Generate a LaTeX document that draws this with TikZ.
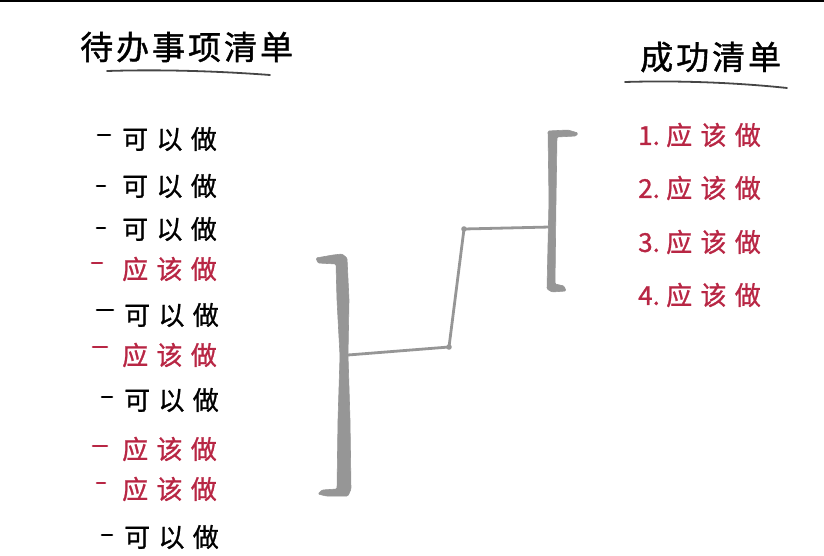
\documentclass[tikz,border=0pt]{standalone}
\usepackage{fontspec}
\newfontfamily\cjk[FakeBold=1]{Noto Sans CJK SC}
\newfontfamily\cjktitle[LetterSpace=9,FakeBold=1.2]{Noto Sans CJK SC}
\newfontfamily\cjklist[LetterSpace=32,FakeBold=1]{Noto Sans CJK SC}
\definecolor{redink}{RGB}{184,38,68}
\definecolor{barink}{RGB}{150,150,150}
\definecolor{lineink}{RGB}{70,70,70}
\begin{document}
\begin{tikzpicture}[x=1pt,y=-1pt,
  titletext/.style={anchor=west,inner sep=0pt,font=\cjktitle\fontsize{33}{33}\selectfont},
  listtext/.style={anchor=west,inner sep=0pt,font=\cjklist\fontsize{26}{26}\selectfont},
  oktext/.style={listtext,text=redink},
  dashmark/.style={line width=2.6pt,line cap=round},
  underline/.style={lineink,line width=1.8pt,line cap=round},
  connector/.style={barink,line width=2.8pt,line cap=round,line join=round},
  barshape/.style={fill=barink,draw=barink,line width=0.6pt,rounded corners=1.2pt}]
\useasboundingbox (0,0) rectangle (824,556);
\fill[black] (0,0) rectangle (824,2.5);
% titles
\node[titletext] (tl) at (80,47) {待办事项清单};
\draw[underline] (107,71) .. controls (170,69) and (230,72) .. (270,75);
\node[titletext] (tr) at (640,57) {成功清单};
\draw[underline] (625,82) .. controls (690,80) and (750,84) .. (787,88);
% left list
\foreach \y/\dx/\dy/\dl/\tx/\kind [count=\i] in
  {139/98/135/12/122/a, 186/97/186/8/122/a, 229/97/228/8/122/a, 269/92/263/10/122/b,
   315/97/310/16/124/a, 355/93/347/14/122/b, 400/102/397/10/124/a, 449/93/446/14/122/b,
   489/97/483/8/122/b, 537/102/535/10/124/a}{
  \if a\kind
    \draw[dashmark] (\dx,\dy) coordinate (d\i a) -- ++(\dl,0) coordinate (d\i b);
    \node[listtext] (l\i) at (\tx,\y) {可以做};
  \else
    \draw[dashmark,redink] (\dx,\dy) coordinate (d\i a) -- ++(\dl,0) coordinate (d\i b);
    \node[oktext] (l\i) at (\tx,\y) {应该做};
  \fi
}
% right list
\foreach \n/\y in {1/135,2/188,3/242,4/295}{
  \node[oktext] (r\n) at (638,\y) {\makebox[28pt][l]{\cjk\fontsize{26}{26}\selectfont\n.}应该做};
}
% left bracket
\fill[barshape] (316,258) -- (333,255) -- (342,254) -- (347,258) -- (349,300) -- (348,355)
  -- (350,420) -- (351,489) -- (348,496) -- (326,496) -- (318,494) -- (322,490) -- (337,489)
  -- (338,420) -- (340,356) -- (337,300) -- (336,264) -- (318,263) -- cycle;
% right bracket
\fill[barshape] (548,131) -- (568,130) -- (578,133) -- (576,136) -- (557,137) -- (556,200)
  -- (555,284) -- (564,286) -- (566,291) -- (552,292) -- (547,289) -- (549,200) -- cycle;
% connectors
\coordinate (lb) at (348,355);
\coordinate (c1) at (449,347);
\coordinate (c2) at (464,229);
\coordinate (rb) at (550,227);
\draw[connector] (lb) -- (c1) -- (c2) -- (rb);
\fill[barink] (c1) circle (2.8pt);
\fill[barink] (c2) circle (2.8pt);
\end{tikzpicture}
\end{document}
